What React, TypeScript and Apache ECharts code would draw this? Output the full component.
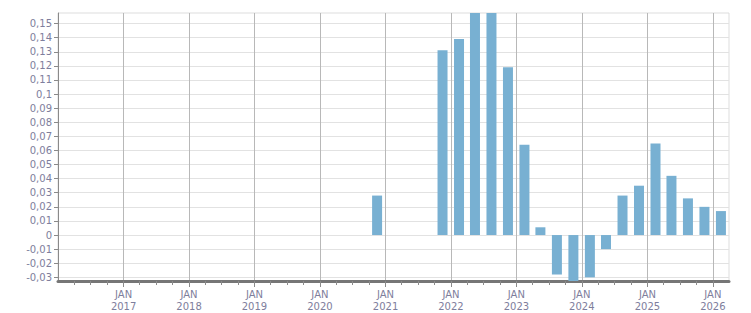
import React, { useEffect, useRef } from "react";
import * as echarts from "echarts";

// Quarterly observations (bar centred at mid-quarter)
const periods = [
  "2020-11-15",
  "2021-11-15",
  "2022-02-15",
  "2022-05-15",
  "2022-08-15",
  "2022-11-15",
  "2023-02-15",
  "2023-05-15",
  "2023-08-15",
  "2023-11-15",
  "2024-02-15",
  "2024-05-15",
  "2024-08-15",
  "2024-11-15",
  "2025-02-15",
  "2025-05-15",
  "2025-08-15",
  "2025-11-15",
  "2026-02-15",
];
const values = [
  0.028, 0.131, 0.139, 0.172, 0.166, 0.119, 0.064, 0.0055, -0.028, -0.034,
  -0.03, -0.01, 0.028, 0.035, 0.065, 0.042, 0.026, 0.02, 0.017,
];

const yTicks = [
  -0.03, -0.02, -0.01, 0, 0.01, 0.02, 0.03, 0.04, 0.05, 0.06, 0.07, 0.08, 0.09,
  0.1, 0.11, 0.12, 0.13, 0.14, 0.15,
];
const yearLabels = [2017, 2018, 2019, 2020, 2021, 2022, 2023, 2024, 2025, 2026];

const X_MIN = "2016-01-01";
const X_MAX = "2026-04-01";
const Y_MIN = -0.0326;
const Y_MAX = 0.1575;

const t = (s: string) => new Date(s + "T00:00:00Z").getTime();

function quarterTicks(): number[] {
  const out: number[] = [];
  for (let y = 2016; y <= 2026; y++) {
    for (const m of [0, 3, 6, 9]) {
      const v = Date.UTC(y, m, 1);
      if (v > t(X_MIN) && v < t(X_MAX)) out.push(v);
    }
  }
  return out;
}

const LABEL_COLOR = "#7e7e9c";
const FONT = "DejaVu Sans";

export default function App() {
  const ref = useRef<HTMLDivElement>(null);
  useEffect(() => {
    if (!ref.current) return;
    const chart = echarts.init(ref.current, null, { renderer: "svg" });
    const yearTs = yearLabels.map((y) => Date.UTC(y, 0, 1));
    chart.setOption({
      animation: false,
      grid: {
        left: 58,
        right: 22,
        top: 13,
        bottom: 32,
        outerBoundsMode: "none",
        containLabel: false,
        show: true,
        borderColor: "#dddddd",
        borderWidth: 1,
      },
      xAxis: [
        {
          type: "value",
          min: t(X_MIN),
          max: t(X_MAX),
          position: "bottom",
          axisLine: { show: true, onZero: false, lineStyle: { color: "#767676", width: 3 } },
          axisTick: {
            show: true,
            customValues: quarterTicks(),
            length: 4,
            lineStyle: { color: "#8a8a8a", width: 1 },
          },
          axisLabel: { show: false },
          splitLine: { show: false },
        },
        {
          type: "value",
          min: t(X_MIN),
          max: t(X_MAX),
          position: "bottom",
          axisLine: { show: false, onZero: false },
          axisTick: {
            show: true,
            customValues: yearTs,
            length: 6,
            lineStyle: { color: "#8a8a8a", width: 1 },
          },
          axisLabel: {
            show: true,
            customValues: yearTs,
            margin: 7,
            color: LABEL_COLOR,
            fontFamily: FONT,
            fontSize: 10,
            lineHeight: 12,
            formatter: (v: number) => "JAN\n" + new Date(v).getUTCFullYear(),
          },
          splitLine: { show: true, lineStyle: { color: "#b8b8b8", width: 1 } },
        },
      ],
      yAxis: {
        type: "value",
        min: Y_MIN,
        max: Y_MAX,
        axisLine: { show: true, lineStyle: { color: "#8a8a8a", width: 1 } },
        axisTick: {
          show: true,
          customValues: yTicks,
          length: 4,
          lineStyle: { color: "#8a8a8a" },
        },
        axisLabel: {
          customValues: yTicks,
          margin: 6,
          color: LABEL_COLOR,
          fontFamily: FONT,
          fontSize: 10,
          formatter: (v: number) => {
            const r = Math.round(v * 100) / 100;
            return String(r).replace(".", ",");
          },
        },
        splitLine: { show: true, lineStyle: { color: "#e2e2e2", width: 1 } },
      },
      series: [
        {
          type: "bar",
          xAxisIndex: 0,
          barWidth: 10,
          itemStyle: { color: "#78b0d2" },
          data: periods.map((p, i) => [t(p), values[i]]),
        },
      ],
    });
    return () => chart.dispose();
  }, []);
  return <div ref={ref} style={{ width: 751, height: 313, marginLeft: -8, marginTop: -8 }} />;
}
